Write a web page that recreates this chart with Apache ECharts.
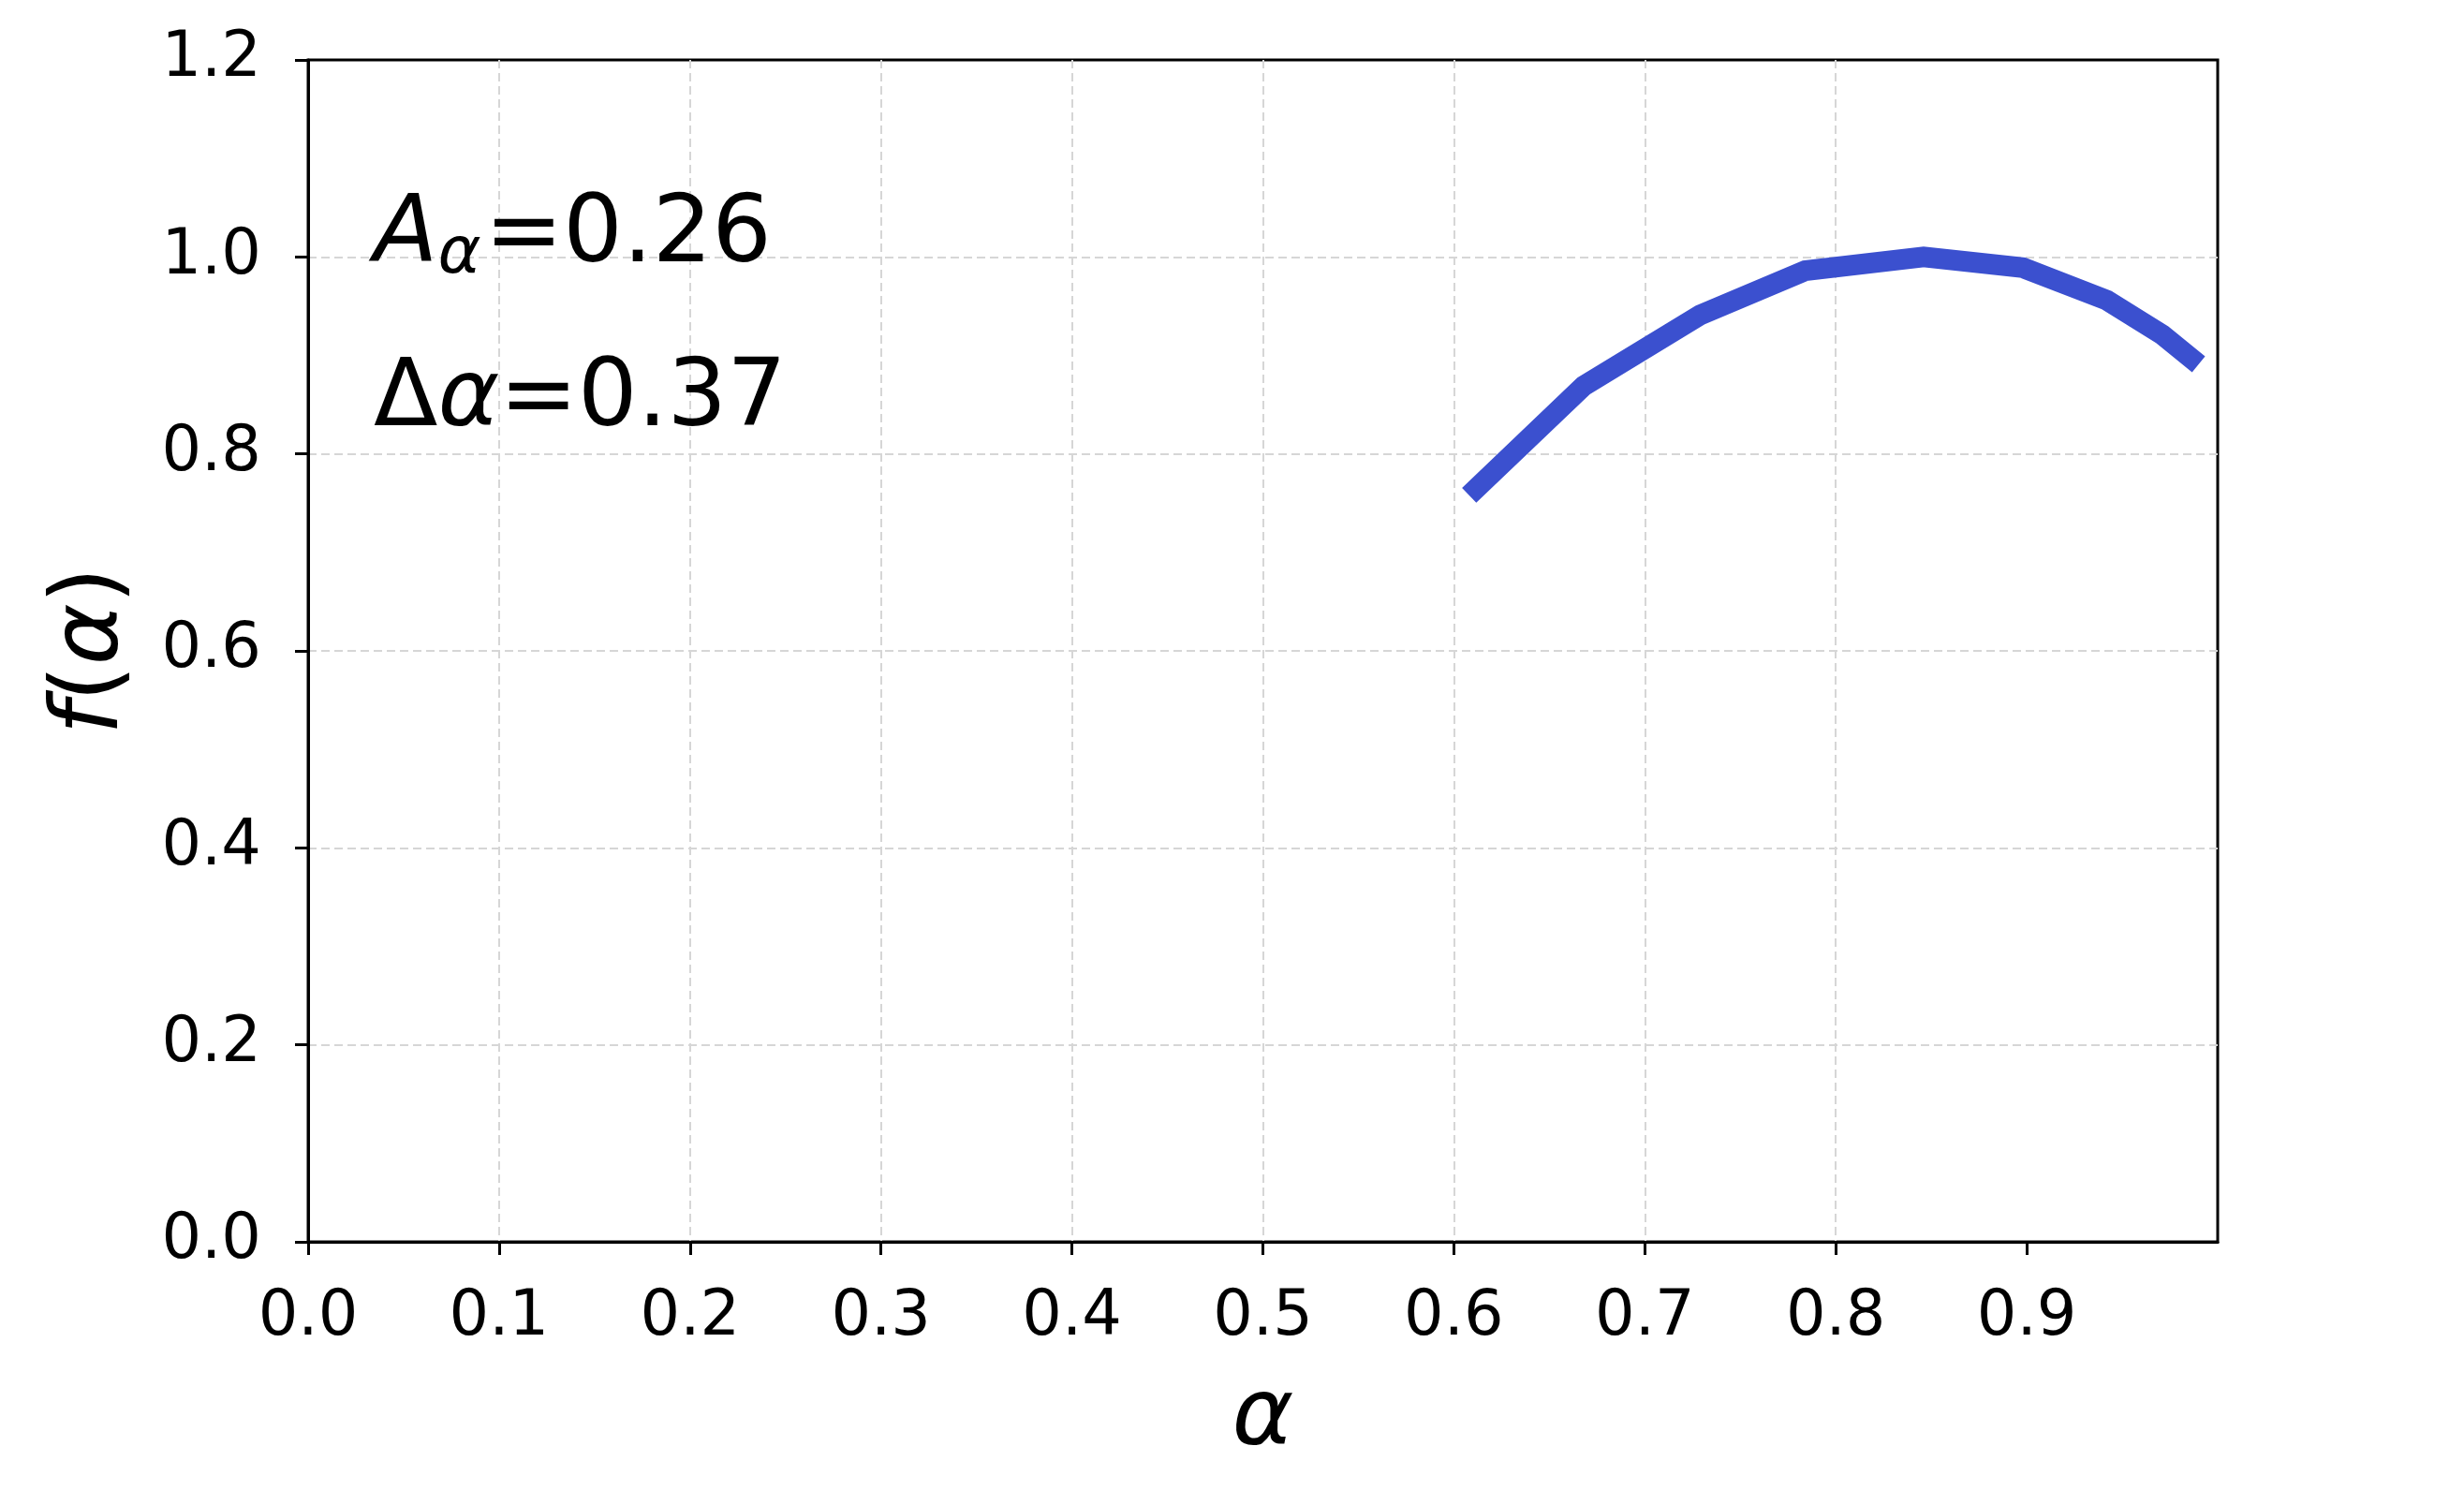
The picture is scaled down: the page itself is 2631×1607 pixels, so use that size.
<!DOCTYPE html>
<html>
<head>
<meta charset="utf-8">
<script src="https://cdn.jsdelivr.net/npm/echarts@6/dist/echarts.min.js"></script>
<style>html,body{margin:0;padding:0;background:#fff}#c{width:2631px;height:1607px}</style>
</head>
<body>
<div id="c"></div>
<script>
const alphaValues = [0.608, 0.668, 0.729, 0.784, 0.846, 0.898, 0.942, 0.971, 0.990];
const fValues     = [0.758, 0.869, 0.941, 0.986, 1.000, 0.989, 0.956, 0.921, 0.891];
const xTicks = [0.0, 0.1, 0.2, 0.3, 0.4, 0.5, 0.6, 0.7, 0.8, 0.9];
const yTicks = [0.0, 0.2, 0.4, 0.6, 0.8, 1.0, 1.2];
const annoA = '0.26';
const annoD = '0.37';

const FONT = 'DejaVu Sans';
const chart = echarts.init(document.getElementById('c'), null, {renderer: 'canvas'});
const gridDash = {show: true, showMinLine: false, showMaxLine: false,
  lineStyle: {color: '#d6d6d6', width: 2, type: [9, 5]}};

chart.setOption({
  backgroundColor: '#fff',
  animation: false,
  grid: {left: 329, right: 263, top: 64, bottom: 281, show: true, borderColor: '#000', borderWidth: 3, containLabel: false},
  xAxis: {
    type: 'value', min: 0, max: 1.0, interval: 0.1,
    name: '{i|α}', nameLocation: 'middle', nameGap: 140,
    nameTextStyle: {rich: {i: {fontFamily: FONT, fontStyle: 'italic', fontSize: 100, color: '#000'}}},
    axisLine: {show: true, lineStyle: {color: '#000', width: 3}},
    axisTick: {show: true, inside: false, length: 14, lineStyle: {color: '#000', width: 3}, customValues: xTicks},
    axisLabel: {customValues: xTicks, fontFamily: FONT, fontSize: 67, color: '#000', margin: 48,
      formatter: v => Number(v).toFixed(1)},
    splitLine: gridDash
  },
  yAxis: {
    type: 'value', min: 0, max: 1.2, interval: 0.2,
    name: '{i|f}({i|α})', nameLocation: 'middle', nameGap: 180, nameRotate: 90,
    nameTextStyle: {fontFamily: FONT, fontSize: 100, color: '#000',
      rich: {i: {fontFamily: FONT, fontStyle: 'italic', fontSize: 100, color: '#000'}}},
    axisLine: {show: true, lineStyle: {color: '#000', width: 3}},
    axisTick: {show: true, inside: false, length: 14, lineStyle: {color: '#000', width: 3}, customValues: yTicks},
    axisLabel: {customValues: yTicks, fontFamily: FONT, fontSize: 67, color: '#000', margin: 50,
      formatter: v => Number(v).toFixed(1)},
    splitLine: gridDash
  },
  graphic: [
    {type: 'text', left: 399, top: 203, z: 10,
      style: {text: '{a|A}{s|α}{n|=' + annoA + '}', rich: {
        a: {fontFamily: FONT, fontStyle: 'italic', fontSize: 100, lineHeight: 110, verticalAlign: 'middle', fill: '#000'},
        s: {fontFamily: FONT, fontStyle: 'italic', fontSize: 70, lineHeight: 26, verticalAlign: 'bottom', fill: '#000', padding: [0, 4, 0, 0]},
        n: {fontFamily: FONT, fontSize: 100, lineHeight: 110, verticalAlign: 'middle', fill: '#000'}
      }}},
    {type: 'text', left: 399, top: 378, z: 10,
      style: {text: '{n|Δ}{i|α}{n|=' + annoD + '}', rich: {
        i: {fontFamily: FONT, fontStyle: 'italic', fontSize: 100, lineHeight: 110, fill: '#000'},
        n: {fontFamily: FONT, fontSize: 100, lineHeight: 110, fill: '#000'}
      }}}
  ],
  series: [{
    type: 'line',
    data: alphaValues.map((a, i) => [a, fValues[i]]),
    showSymbol: false, symbol: 'none', smooth: false,
    lineStyle: {color: '#3b50cf', width: 22, cap: 'butt', join: 'miter'},
    z: 5
  }]
});
</script>
</body>
</html>
